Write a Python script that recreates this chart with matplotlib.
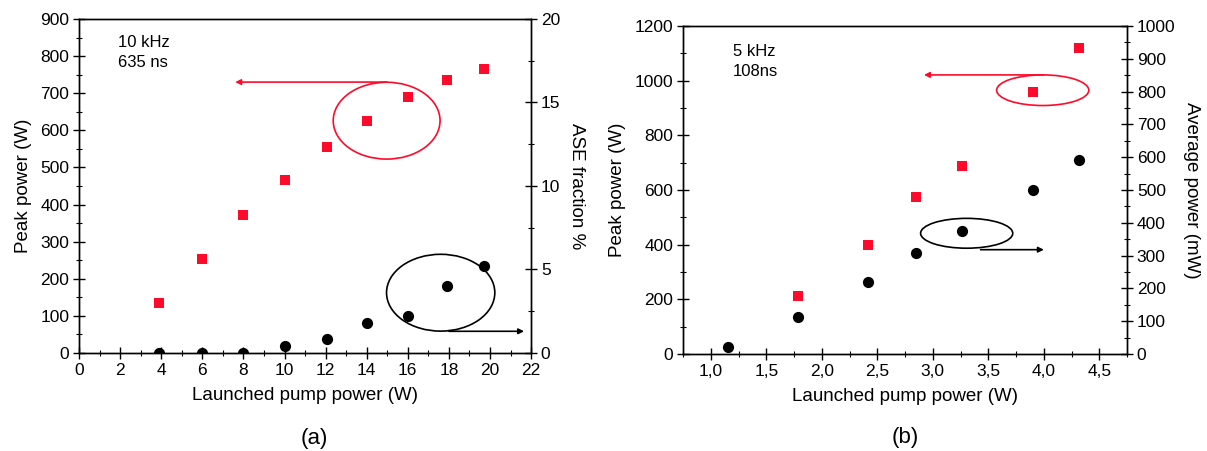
import matplotlib
matplotlib.use("Agg")
import matplotlib.pyplot as plt
from matplotlib.patches import Ellipse
from matplotlib.ticker import MultipleLocator, FuncFormatter

plt.rcParams['font.family'] = ['Liberation Sans', 'DejaVu Sans']

# ---- Data: panel (a) 10 kHz, 635 ns ----
a_pump = [3.9, 6.0, 8.0, 10.0, 12.07, 14.0, 16.0, 17.9, 19.7]
a_peak = [134, 254, 373, 467, 556, 625, 690, 735, 765]
a_ase = [0.0, 0.0, 0.0, 0.42, 0.82, 1.8, 2.2, 4.0, 5.2]

# ---- Data: panel (b) 5 kHz, 108 ns ----
b_pump_peak = [1.79, 2.42, 2.85, 3.26, 3.90, 4.32]
b_peak = [211, 400, 574, 686, 959, 1118]
b_pump_avg = [1.156, 1.79, 2.42, 2.85, 3.26, 3.90, 4.32]
b_avg = [22, 112, 218, 308, 376, 500, 591]

RED = '#ff0a2a'
TICK_FS = 12.5
LABEL_FS = 13.5

fig = plt.figure(figsize=(12.07, 4.51), dpi=100)

def style(ax):
    ax.tick_params(direction='inout', length=8, width=1, labelsize=TICK_FS, pad=3)
    ax.tick_params(which='minor', direction='inout', length=5, width=0.8)
    for s in ax.spines.values():
        s.set_linewidth(1.0)

# ---------------- Panel (a) ----------------
ax = fig.add_axes([0.0655, 0.2173, 0.3745, 0.7406])
ax.scatter(a_pump, a_peak, marker='s', s=55, color=RED, zorder=3, linewidths=0)
ax.set_xlim(0, 22)
ax.set_ylim(0, 900)
ax.xaxis.set_major_locator(MultipleLocator(2))
ax.xaxis.set_minor_locator(MultipleLocator(1))
ax.yaxis.set_major_locator(MultipleLocator(100))
ax.yaxis.set_minor_locator(MultipleLocator(50))
ax.set_xlabel('Launched pump power (W)', fontsize=LABEL_FS, labelpad=7)
ax.set_ylabel('Peak power (W)', fontsize=LABEL_FS, labelpad=6)
style(ax)
ax.text(1.9, 810, '10 kHz\n635 ns', fontsize=12, va='center', ha='left', linespacing=1.4)
ax.add_patch(Ellipse((14.97, 626), 5.2, 207, fill=False, edgecolor=RED, lw=1.2, zorder=4))
ax.annotate('', xy=(7.6, 730), xytext=(15.0, 730),
            arrowprops=dict(arrowstyle='-|>', color=RED, lw=1.2, mutation_scale=8,
                            shrinkA=0, shrinkB=0))
ax.text(0.52, -0.255, '(a)', transform=ax.transAxes, fontsize=16, ha='center', va='center')

ax2 = ax.twinx()
ax2.scatter(a_pump, a_ase, marker='o', s=65, color='black', zorder=3, linewidths=0)
ax2.set_ylim(0, 20)
ax2.yaxis.set_major_locator(MultipleLocator(5))
ax2.yaxis.set_minor_locator(MultipleLocator(2.5))
ax2.set_ylabel('ASE fraction %', fontsize=LABEL_FS, rotation=-90, labelpad=18)
style(ax2)
ax2.add_patch(Ellipse((17.6, 3.61), 5.27, 4.6, fill=False, edgecolor='black', lw=1.2, zorder=4))
ax2.annotate('', xy=(21.66, 1.3), xytext=(18.0, 1.3),
             arrowprops=dict(arrowstyle='-|>', color='black', lw=1.2, mutation_scale=8,
                             shrinkA=0, shrinkB=0))

# ---------------- Panel (b) ----------------
comma = FuncFormatter(lambda v, p: ('%.1f' % v).replace('.', ','))
bx = fig.add_axes([0.5659, 0.2151, 0.3679, 0.7273])
bx.scatter(b_pump_peak, b_peak, marker='s', s=55, color=RED, zorder=3, linewidths=0)
bx.set_xlim(0.75, 4.75)
bx.set_ylim(0, 1200)
bx.xaxis.set_major_locator(MultipleLocator(0.5))
bx.xaxis.set_minor_locator(MultipleLocator(0.25))
bx.xaxis.set_major_formatter(comma)
bx.yaxis.set_major_locator(MultipleLocator(200))
bx.yaxis.set_minor_locator(MultipleLocator(100))
bx.set_xlabel('Launched pump power (W)', fontsize=LABEL_FS, labelpad=7)
bx.set_ylabel('Peak power (W)', fontsize=LABEL_FS, labelpad=6)
style(bx)
bx.text(1.2, 1070, '5 kHz\n108ns', fontsize=12, va='center', ha='left', linespacing=1.4)
bx.add_patch(Ellipse((3.99, 965), 0.83, 112, fill=False, edgecolor=RED, lw=1.2, zorder=4))
bx.annotate('', xy=(2.92, 1021), xytext=(4.0, 1021),
            arrowprops=dict(arrowstyle='-|>', color=RED, lw=1.2, mutation_scale=8,
                            shrinkA=0, shrinkB=0))
bx.text(0.5, -0.255, '(b)', transform=bx.transAxes, fontsize=16, ha='center', va='center')

bx2 = bx.twinx()
bx2.scatter(b_pump_avg, b_avg, marker='o', s=65, color='black', zorder=3, linewidths=0)
bx2.set_ylim(0, 1000)
bx2.yaxis.set_major_locator(MultipleLocator(100))
bx2.yaxis.set_minor_locator(MultipleLocator(50))
bx2.set_ylabel('Average power (mW)', fontsize=LABEL_FS, rotation=-90, labelpad=18)
style(bx2)
bx2.add_patch(Ellipse((3.305, 368), 0.83, 91, fill=False, edgecolor='black', lw=1.2, zorder=4))
bx2.annotate('', xy=(4.0, 318), xytext=(3.43, 318),
             arrowprops=dict(arrowstyle='-|>', color='black', lw=1.2, mutation_scale=8,
                             shrinkA=0, shrinkB=0))

fig.savefig('out.png', dpi=100)
